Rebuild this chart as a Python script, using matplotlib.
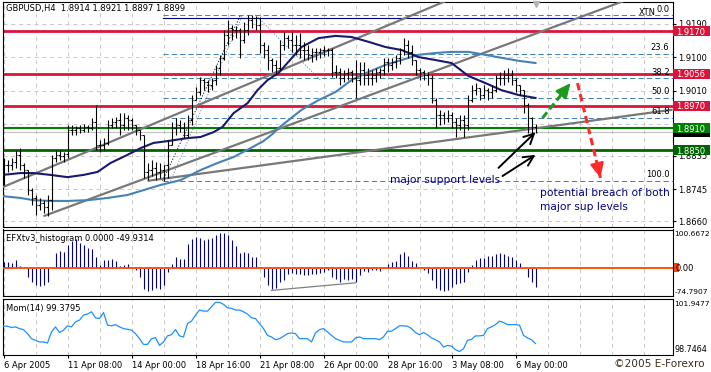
import matplotlib
matplotlib.use('Agg')
import matplotlib.pyplot as plt
import numpy as np
from matplotlib.patches import Rectangle
from matplotlib.transforms import blended_transform_factory

# ---- GBPUSD H4 bars (6 Apr 2005 16:00 .. 6 May 2005 20:00) ----
first_open = 1.8825
highs = [
    1.8830, 1.8824, 1.8830, 1.8851, 1.8856, 1.8816, 1.8797, 1.8749, 1.8730, 1.8722,
    1.8716, 1.8730, 1.8838, 1.8851, 1.8851, 1.8846, 1.8918, 1.8918, 1.8916, 1.8918,
    1.8921, 1.8918, 1.8937, 1.8972, 1.8878, 1.8883, 1.8932, 1.8937, 1.8940, 1.8950,
    1.8950, 1.8945, 1.8937, 1.8918, 1.8905, 1.8891, 1.8816, 1.8824, 1.8819, 1.8816,
    1.8811, 1.8878, 1.8926, 1.8937, 1.8932, 1.8926, 1.8945, 1.8999, 1.9021, 1.9047,
    1.9045, 1.9039, 1.9045, 1.9080, 1.9107, 1.9174, 1.9201, 1.9187, 1.9185, 1.9179,
    1.9195, 1.9214, 1.9214, 1.9212, 1.9209, 1.9142, 1.9134, 1.9099, 1.9093, 1.9147,
    1.9169, 1.9160, 1.9169, 1.9160, 1.9166, 1.9142, 1.9134, 1.9126, 1.9126, 1.9126,
    1.9131, 1.9126, 1.9126, 1.9080, 1.9072, 1.9066, 1.9072, 1.9066, 1.9093, 1.9088,
    1.9088, 1.9072, 1.9066, 1.9072, 1.9072, 1.9099, 1.9099, 1.9099, 1.9107, 1.9126,
    1.9152, 1.9147, 1.9134, 1.9093, 1.9072, 1.9066, 1.9061, 1.9053, 1.8991, 1.8959,
    1.8953, 1.8959, 1.8953, 1.8937, 1.8945, 1.8945, 1.8999, 1.9026, 1.9031, 1.9018,
    1.9026, 1.9018, 1.9026, 1.9053, 1.9061, 1.9066, 1.9072, 1.9066, 1.9045, 1.9026,
    1.9012, 1.8977, 1.8940, 1.8921]
lows = [
    1.8757, 1.8792, 1.8797, 1.8803, 1.8797, 1.8776, 1.8730, 1.8703, 1.8676, 1.8690,
    1.8682, 1.8674, 1.8690, 1.8819, 1.8824, 1.8819, 1.8830, 1.8891, 1.8891, 1.8897,
    1.8899, 1.8899, 1.8905, 1.8851, 1.8846, 1.8851, 1.8864, 1.8910, 1.8910, 1.8891,
    1.8905, 1.8905, 1.8905, 1.8891, 1.8878, 1.8776, 1.8770, 1.8781, 1.8770, 1.8776,
    1.8768, 1.8776, 1.8864, 1.8891, 1.8899, 1.8883, 1.8886, 1.8918, 1.8985, 1.8999,
    1.9012, 1.9007, 1.9012, 1.9026, 1.9053, 1.9093, 1.9134, 1.9147, 1.9152, 1.9099,
    1.9139, 1.9160, 1.9179, 1.9174, 1.9112, 1.9099, 1.9066, 1.9061, 1.9053, 1.9066,
    1.9120, 1.9126, 1.9115, 1.9107, 1.9099, 1.9093, 1.9093, 1.9088, 1.9093, 1.9099,
    1.9104, 1.9104, 1.9047, 1.9045, 1.9026, 1.9034, 1.9039, 1.9034, 1.8991, 1.9026,
    1.9026, 1.9026, 1.9026, 1.9034, 1.9045, 1.9053, 1.9061, 1.9066, 1.9072, 1.9082,
    1.9107, 1.9099, 1.9080, 1.9053, 1.9039, 1.9039, 1.9026, 1.8977, 1.8910, 1.8918,
    1.8921, 1.8926, 1.8910, 1.8886, 1.8905, 1.8886, 1.8905, 1.8980, 1.8999, 1.8985,
    1.8991, 1.8985, 1.8991, 1.9007, 1.9026, 1.9026, 1.9034, 1.9026, 1.9007, 1.8999,
    1.8950, 1.8897, 1.8897, 1.8897]
closes = [
    1.8811, 1.8811, 1.8819, 1.8838, 1.8811, 1.8797, 1.8744, 1.8722, 1.8703, 1.8709,
    1.8698, 1.8716, 1.8830, 1.8838, 1.8835, 1.8840, 1.8905, 1.8905, 1.8910, 1.8905,
    1.8913, 1.8910, 1.8926, 1.8864, 1.8864, 1.8870, 1.8918, 1.8926, 1.8932, 1.8918,
    1.8937, 1.8932, 1.8918, 1.8905, 1.8891, 1.8792, 1.8797, 1.8803, 1.8792, 1.8797,
    1.8811, 1.8864, 1.8910, 1.8918, 1.8910, 1.8891, 1.8932, 1.8985, 1.9007, 1.9039,
    1.9034, 1.9026, 1.9039, 1.9072, 1.9099, 1.9160, 1.9179, 1.9174, 1.9174, 1.9147,
    1.9174, 1.9201, 1.9206, 1.9187, 1.9134, 1.9120, 1.9093, 1.9080, 1.9072, 1.9134,
    1.9152, 1.9147, 1.9134, 1.9134, 1.9120, 1.9120, 1.9107, 1.9115, 1.9115, 1.9120,
    1.9120, 1.9120, 1.9061, 1.9061, 1.9045, 1.9058, 1.9061, 1.9045, 1.9039, 1.9066,
    1.9053, 1.9045, 1.9053, 1.9061, 1.9066, 1.9088, 1.9080, 1.9088, 1.9099, 1.9120,
    1.9134, 1.9115, 1.9093, 1.9066, 1.9061, 1.9053, 1.9045, 1.8985, 1.8945, 1.8945,
    1.8937, 1.8945, 1.8926, 1.8918, 1.8932, 1.8918, 1.8985, 1.9012, 1.9018, 1.8999,
    1.9012, 1.9007, 1.9012, 1.9045, 1.9045, 1.9053, 1.9053, 1.9039, 1.9026, 1.9012,
    1.8972, 1.8937, 1.8914, 1.8899]

# moving averages (bar position, price)
ma_fast_idx = [-0.25, 4.25, 7.5, 11.75, 16, 20, 23.5, 26.75, 31, 34.25, 37.5, 41, 46,
               49.25, 52.5, 54.75, 57.5, 61, 63.5, 66, 68.75, 74.5, 78.75, 83, 87,
               91.25, 95.5, 99.5, 103.75, 108, 112, 116.25, 120.5, 124.5, 128.75, 133]
ma_fast = [1.8784, 1.8789, 1.8789, 1.8784, 1.8778, 1.8784, 1.8792, 1.8816, 1.8838,
           1.8856, 1.8870, 1.8875, 1.8883, 1.8886, 1.8899, 1.8913, 1.8950, 1.8977,
           1.9012, 1.9039, 1.9058, 1.9128, 1.9152, 1.9158, 1.9155, 1.9142, 1.9128,
           1.9120, 1.9101, 1.9093, 1.9085, 1.9050, 1.9031, 1.9012, 1.8999, 1.8991]
ma_slow_idx = [-0.25, 4.25, 7.5, 11.75, 16, 21, 26, 31, 35, 39.25, 44.25, 49.25, 53.5,
               57.5, 61.75, 65, 67.25, 68.75, 74.5, 78.75, 83, 87, 91.25, 95.5, 99.5,
               103.75, 108, 112, 116.25, 120.5, 124.5, 128.75, 133]
ma_slow = [1.8727, 1.8722, 1.8716, 1.8714, 1.8714, 1.8716, 1.8722, 1.8730, 1.8743,
           1.8757, 1.8770, 1.8797, 1.8816, 1.8832, 1.8856, 1.8875, 1.8894, 1.8910,
           1.8959, 1.8985, 1.9007, 1.9039, 1.9061, 1.9080, 1.9093, 1.9107, 1.9112,
           1.9115, 1.9115, 1.9107, 1.9099, 1.9091, 1.9085]

# EFXtv3 histogram
efx_hist = [
    15, 15, 12, 21, 3.5, 0, -25, -38, -46, -49,
    -45, -38, 0, 38, 43, 41, 59, 71, 76, 66,
    61, 52, 50, 27, 8, 19, 21, 23, 18, 4,
    6, 10.5, 0, -7, -25, -57, -62, -60, -55, -57,
    -46, -11, 9, 28, 24, 22, 63, 75, 82, 78,
    72, 75, 78, 85, 92, 92, 85, 72, 57, 39,
    41, 39, 28, 28, 2, -25, -46, -57, -55, -38,
    -33, -16, -13, -16, -18, -20, -20, -16, -18, -14,
    -11, -7, -25, -31, -38, -31, -33, -31, -39, -20,
    -9, -11, -7, -5, -9, 0, 10.5, 15, 18, 35,
    41, 31, 17, 12, 0, -7, -14, -33, -54, -58,
    -62, -58, -51, -42, -40, -38, -11, 6, 19, 25,
    25, 30, 30, 35, 39, 37, 32, 28, 19, 12,
    0, -25, -39, -49.93]

# Momentum(14)
momentum = [
    100.38, 100.38, 100.30, 100.34, 100.24, 100.18, 99.95, 99.66, 99.56, 99.47,
    99.47, 99.41, 100.05, 100.34, 100.01, 100.15, 100.40, 100.34, 100.63, 100.73,
    101.02, 101.08, 101.21, 100.86, 100.82, 101.17, 100.44, 100.40, 100.47, 100.34,
    100.24, 100.20, 100.15, 99.95, 99.66, 99.33, 99.33, 99.66, 99.72, 99.27,
    99.47, 99.82, 99.89, 100.18, 99.82, 99.76, 100.53, 100.67, 101.02, 101.31,
    101.25, 101.25, 101.50, 101.75, 101.75, 101.64, 101.44, 101.41, 101.31, 101.31,
    101.21, 101.08, 100.86, 100.82, 100.53, 100.24, 99.85, 99.76, 99.60, 99.66,
    99.80, 99.95, 99.99, 99.95, 99.66, 99.66, 99.66, 99.47, 99.99, 100.18,
    100.24, 100.05, 99.85, 99.66, 99.56, 99.47, 99.47, 99.47, 99.70, 99.76,
    99.66, 99.66, 99.66, 99.66, 99.60, 99.76, 100.09, 100.09, 100.24, 100.40,
    100.40, 100.38, 100.24, 100.01, 99.89, 100.01, 99.89, 99.70, 99.60, 99.47,
    99.18, 99.27, 99.23, 99.02, 98.92, 99.08, 99.56, 99.62, 99.82, 99.82,
    99.85, 100.24, 100.34, 100.47, 100.67, 100.59, 100.47, 100.47, 100.47, 100.44,
    99.85, 99.70, 99.60, 99.3795]

x_labels = ['6 Apr 2005', '11 Apr 08:00', '14 Apr 00:00', '18 Apr 16:00',
            '21 Apr 08:00', '26 Apr 00:00', '28 Apr 16:00', '3 May 08:00', '6 May 00:00']
price_ticks = [1.9190, 1.9100, 1.9010, 1.8920, 1.8835, 1.8745, 1.8660]
# labels hidden behind the level boxes on the right scale are left blank
price_tick_labels = ['1.9190', '1.9100', '1.9010', '', '1.8835', '1.8745', '1.8660']

resistance = [1.9170, 1.9056, 1.8970]
support = [1.8910, 1.8850]
bid = 1.8899
fib_hi, fib_lo = 1.9214, 1.8768
fib_levels = [0.0, 23.6, 38.2, 50.0, 61.8, 100.0]

plt.rcParams['font.family'] = 'DejaVu Sans'
plt.rcParams['font.size'] = 6

W, H = 711, 372
fig = plt.figure(figsize=(W / 100, H / 100), dpi=100)
fig.patch.set_facecolor('white')


def panel(top, bottom, left=2.5, right=672.5):
    return fig.add_axes([left / W, 1 - bottom / H, (right - left) / W, (bottom - top) / H])


XMIN, XMAX = -0.25, 167.25
main = panel(1.5, 227)
hist = panel(229.5, 296)
mom = panel(299, 354.5)

for ax in (main, hist, mom):
    ax.set_xlim(XMIN, XMAX)
    for s in ax.spines.values():
        s.set_linewidth(0.8)
        s.set_color('black')
    ax.tick_params(axis='x', bottom=False, labelbottom=False)
    for gx in range(0, 168, 8):
        ax.axvline(gx, color='#c8c8c8', lw=0.7, dashes=(4, 4), zorder=0)

idx = np.arange(len(closes))
opens = [first_open] + closes[:-1]

# ---------------- main price panel ----------------
main.set_ylim(1.86439, 1.92505)
main.yaxis.tick_right()
main.set_yticks(price_ticks)
main.set_yticklabels(price_tick_labels)
main.tick_params(axis='y', length=2.5, width=0.8, pad=1.5, labelsize=6)
for p in price_ticks:
    main.axhline(p, color='#c8c8c8', lw=0.7, dashes=(4, 4), zorder=0)

main.axhline(bid, color='#c0c0c0', lw=0.8, zorder=1)

# fibonacci retracement
fib_start = 39.75
for lv in fib_levels:
    p = fib_hi - lv / 100.0 * (fib_hi - fib_lo)
    main.plot([fib_start, XMAX], [p, p], color='#4682b4', lw=0.75, dashes=(5, 3), zorder=1)
    if lv > 0:
        main.text(166.5, p + 0.0005, '%.1f' % lv, ha='right', va='bottom', fontsize=6, zorder=6)
main.text(163, 1.9222, 'XTN', ha='right', va='center', fontsize=6, zorder=6)
main.text(166.5, 1.9229, '0.0', ha='right', va='center', fontsize=6, zorder=6)
main.plot([fib_start, XMAX], [1.9205, 1.9205], color='#000080', lw=0.8, zorder=2)
main.plot([fib_start, 59.25], [fib_lo, fib_hi], color='black', lw=0.6, dashes=(1.5, 2), zorder=2)
main.plot([41.75, 59.75], [fib_lo, fib_hi], color='#4682b4', lw=0.6, dashes=(1.5, 2), zorder=2)
main.plot([63, 79.25], [fib_hi, 1.9039], color='#4682b4', lw=0.6, dashes=(1.5, 2), zorder=2)

for p in resistance:
    main.axhline(p, color='#dc143c', lw=2.0, zorder=2)
main.axhline(support[0], color='#008000', lw=1.5, zorder=2)
main.axhline(support[1], color='#006400', lw=2.0, zorder=2)

# trend lines (two anchors each, extended to the right)
def trend(ax, i1, p1, i2, p2, start=None, **kw):
    slope = (p2 - p1) / (i2 - i1)
    x0 = XMIN if start is None else start
    ax.plot([x0, XMAX], [p1 + slope * (x0 - i1), p1 + slope * (XMAX - i1)], **kw)

tl = dict(color='#787878', lw=1.6, zorder=3, solid_capstyle='butt')
trend(main, 0, 1.8752, 100, 1.9204, **tl)
trend(main, 10, 1.8673, 116.75, 1.9099, start=10, **tl)
trend(main, 36, 1.8768, 167, 1.8959, start=36, **tl)

main.plot(ma_slow_idx, ma_slow, color='#4682b4', lw=1.5, zorder=3)
main.plot(ma_fast_idx, ma_fast, color='#191970', lw=1.5, zorder=3)

# OHLC bars
main.vlines(idx, lows, highs, color='black', lw=0.8, zorder=4)
main.hlines(opens, idx - 0.45, idx, color='black', lw=0.8, zorder=4)
main.hlines(closes, idx, idx + 0.45, color='black', lw=0.8, zorder=4)

main.plot([133], [1.9245], marker='v', color='#b4b4b4', ms=5, clip_on=False, zorder=6)

main.text(0.005, 0.967, 'GBPUSD,H4  1.8914 1.8921 1.8897 1.8899', transform=main.transAxes,
          ha='left', va='center', fontsize=6, zorder=7)

# arrows
def dashed_arrow(ax, p0, p1, color):
    ax.plot([p0[0], p1[0]], [p0[1], p1[1]], color=color, lw=2.2, dashes=(2.4, 1.3), zorder=5)
    q = (p0[0] + 0.9 * (p1[0] - p0[0]), p0[1] + 0.9 * (p1[1] - p0[1]))
    ax.annotate('', xy=p1, xytext=q, zorder=5,
                arrowprops=dict(arrowstyle='-|>,head_length=0.75,head_width=0.35',
                                color=color, lw=1.5, mutation_scale=12, shrinkA=0, shrinkB=0))

dashed_arrow(main, (134.75, 1.8937), (141.75, 1.9031), '#1e9a1e')
dashed_arrow(main, (143.5, 1.9031), (149.25, 1.8776), '#ff2a2a')

for tail, head in [((123.75, 1.8803), (133, 1.8899)), ((124.75, 1.8781), (133, 1.8838))]:
    main.annotate('', xy=head, xytext=tail, zorder=5,
                  arrowprops=dict(arrowstyle='->,head_length=0.6,head_width=0.3', color='black',
                                  lw=1.4, mutation_scale=12, shrinkA=0, shrinkB=0))

main.text(96.75, 1.8770, 'major support levels', ha='left', va='center', fontsize=7.7,
          color='#000080', zorder=6)
main.text(134.25, 1.8716, 'potential breach of both\nmajor sup levels', ha='left', va='center',
          fontsize=7.7, color='#000080', linespacing=1.45, zorder=6)

# right-hand price boxes
trans_main = blended_transform_factory(main.transAxes, main.transData)
def price_box(p, fc, show_text=True):
    main.add_patch(Rectangle((1.0008, p - 0.00135), 0.0552, 0.0027, transform=trans_main,
                             fc=fc, ec='none', clip_on=False, zorder=8))
    if show_text:
        main.text(1.0055, p, '%.4f' % p, transform=trans_main, color='white', ha='left',
                  va='center_baseline', fontsize=6, clip_on=False, zorder=9)

for p in resistance:
    price_box(p, '#dc143c')
price_box(bid, 'black', show_text=False)
price_box(support[0], '#008000')
price_box(support[1], '#006400')

# ---------------- histogram panel ----------------
hist.set_ylim(-74.7907, 100.6672)
hist.set_yticks([])
hist.vlines(idx, 0, efx_hist, color='#000080', lw=0.8, zorder=3)
hist.axhline(0, color='#ff4500', lw=1.3, zorder=4)
hist.plot([67, 88], [-60, -40], color='#808080', lw=0.9, zorder=4)
hist.text(0.005, 0.87, 'EFXtv3_histogram 0.0000 -49.9314', transform=hist.transAxes,
          ha='left', va='center', fontsize=6)
trans_hist = blended_transform_factory(hist.transAxes, hist.transData)
hist.add_patch(Rectangle((1.0022, -12), 0.0075, 24, transform=trans_hist, fc='#ff4500',
                         ec='none', clip_on=False))
hist.text(1.0025, 97, '100.6672', transform=trans_hist, ha='left', va='top', fontsize=5.4, clip_on=False)
hist.text(1.004, 0, '0.00', transform=trans_hist, ha='left', va='center_baseline', fontsize=6, clip_on=False)
hist.text(1.0025, -71, '-74.7907', transform=trans_hist, ha='left', va='bottom', fontsize=5.4, clip_on=False)

# ---------------- momentum panel ----------------
mom.set_ylim(98.7464, 101.9477)
mom.set_yticks([])
mom.plot(idx, momentum, color='#1e90ff', lw=0.9, zorder=3)
mom.text(0.005, 0.82, 'Mom(14) 99.3795', transform=mom.transAxes, ha='left', va='center', fontsize=6)
trans_mom = blended_transform_factory(mom.transAxes, mom.transData)
mom.text(1.0025, 101.85, '101.9477', transform=trans_mom, ha='left', va='top', fontsize=5.4, clip_on=False)
mom.text(1.0025, 98.80, '98.7464', transform=trans_mom, ha='left', va='bottom', fontsize=5.8, clip_on=False)

mom.set_xticks(np.arange(len(x_labels)) * 16)
mom.set_xticklabels(x_labels, ha='left')
mom.tick_params(axis='x', bottom=True, labelbottom=True, length=2.5, width=0.8, pad=2, labelsize=6)

fig.text(614 / W, 1 - 364 / H, '\u00a92005 E-Forexro', ha='left', va='center', fontsize=7.6,
         color='#3c2c1c')

fig.savefig('out.png', dpi=100)
